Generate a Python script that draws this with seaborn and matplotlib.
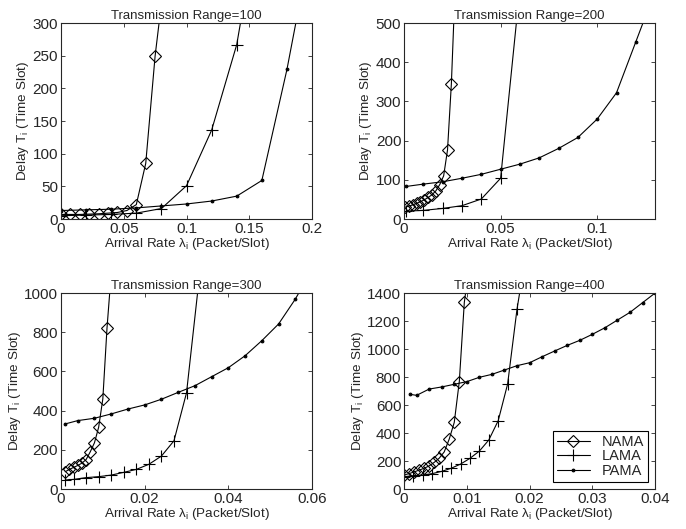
import numpy as np
import pandas as pd
import matplotlib
matplotlib.use("Agg")
import matplotlib.pyplot as plt
import seaborn as sns

# Transmission Range = 100
nama_x_100 = [0, 0.0075, 0.015, 0.0225, 0.03, 0.0375, 0.045, 0.0525, 0.06, 0.0675, 0.075, 0.0825]
nama_y_100 = [7, 7, 7, 7.5, 8, 9, 10, 13, 22, 85, 250, 370]
lama_x_100 = [0, 0.02, 0.04, 0.06, 0.08, 0.10, 0.12, 0.14, 0.16]
lama_y_100 = [5, 6, 7, 9, 16, 51, 136, 267, 490]
pama_x_100 = [0, 0.02, 0.04, 0.06, 0.08, 0.10, 0.12, 0.14, 0.16, 0.18, 0.20]
pama_y_100 = [13, 14, 15, 17, 20, 23, 27.5, 35, 59, 229, 430]

# Transmission Range = 200
nama_x_200 = [0.0005, 0.0025, 0.0045, 0.0065, 0.0085, 0.0105, 0.0125, 0.0145, 0.0165, 0.0185, 0.0205, 0.0225, 0.0245, 0.0265]
nama_y_200 = [30, 33, 36, 40, 44, 49, 55, 62, 72, 88, 110, 176, 345, 600]
lama_x_200 = [0.001, 0.01, 0.02, 0.03, 0.04, 0.05, 0.06]
lama_y_200 = [20, 22, 27, 34, 51, 104, 590]
pama_x_200 = [0.001, 0.01, 0.02, 0.03, 0.04, 0.05, 0.06, 0.07, 0.08, 0.09, 0.10, 0.11, 0.12, 0.13]
pama_y_200 = [83, 89, 95, 104, 114, 127, 140, 156, 180, 208, 255, 322, 452, 582]

# Transmission Range = 300
nama_x_300 = [0.001, 0.002, 0.003, 0.004, 0.005, 0.006, 0.007, 0.008, 0.009, 0.010, 0.011, 0.012]
nama_y_300 = [88, 100, 110, 120, 132, 150, 190, 236, 315, 460, 822, 1100]
lama_x_300 = [0.001, 0.003, 0.006, 0.009, 0.012, 0.015, 0.018, 0.021, 0.024, 0.027, 0.030, 0.033]
lama_y_300 = [46, 49, 58, 63, 71, 85, 100, 126, 168, 246, 491, 1070]
pama_x_300 = [0.001, 0.004, 0.008, 0.012, 0.016, 0.020, 0.024, 0.028, 0.032, 0.036, 0.040, 0.044, 0.048, 0.052, 0.056, 0.060]
pama_y_300 = [332, 349, 361, 383, 408, 429, 458, 493, 527, 573, 619, 680, 757, 842, 969, 1120]

# Transmission Range = 400
nama_x_400 = [0, 0.0008, 0.0016, 0.0024, 0.0032, 0.004, 0.0048, 0.0056, 0.0064, 0.0072, 0.008, 0.0088, 0.0096, 0.0104]
nama_y_400 = [100, 110, 122, 135, 148, 165, 190, 220, 265, 357, 476, 767, 1333, 1600]
lama_x_400 = [0, 0.0015, 0.003, 0.0045, 0.006, 0.0075, 0.009, 0.0105, 0.012, 0.0135, 0.015, 0.0165, 0.018, 0.0195]
lama_y_400 = [88, 95, 100, 110, 126, 148, 178, 219, 271, 350, 488, 750, 1286, 1700]
pama_x_400 = [0.001, 0.002, 0.004, 0.006, 0.008, 0.010, 0.012, 0.014, 0.016, 0.018, 0.020,
              0.022, 0.024, 0.026, 0.028, 0.030, 0.032, 0.034, 0.036, 0.038, 0.040]
pama_y_400 = [676, 669, 714, 729, 748, 767, 798, 819, 850, 881, 902,
              945, 986, 1026, 1062, 1105, 1152, 1207, 1262, 1331, 1400]

ranges = [100, 200, 300, 400]
xlims = [0.2, 0.13, 0.06, 0.04]
ylims = [300, 500, 1000, 1400]
xticks = [[0, 0.05, 0.1, 0.15, 0.2], [0, 0.05, 0.1], [0, 0.02, 0.04, 0.06], [0, 0.01, 0.02, 0.03, 0.04]]
xticklabels = [["0", "0.05", "0.1", "0.15", "0.2"], ["0", "0.05", "0.1"],
               ["0", "0.02", "0.04", "0.06"], ["0", "0.01", "0.02", "0.03", "0.04"]]
ysteps = [50, 100, 200, 200]

series = {
    100: [(nama_x_100, nama_y_100), (lama_x_100, lama_y_100), (pama_x_100, pama_y_100)],
    200: [(nama_x_200, nama_y_200), (lama_x_200, lama_y_200), (pama_x_200, pama_y_200)],
    300: [(nama_x_300, nama_y_300), (lama_x_300, lama_y_300), (pama_x_300, pama_y_300)],
    400: [(nama_x_400, nama_y_400), (lama_x_400, lama_y_400), (pama_x_400, pama_y_400)],
}
names = ["NAMA", "LAMA", "PAMA"]
styles = [dict(marker="D", markersize=6.5, markerfacecolor="none", markeredgecolor="k", markeredgewidth=0.8),
          dict(marker="+", markersize=8, markeredgecolor="k", markeredgewidth=0.8),
          dict(marker=".", markersize=4, markeredgecolor="k", markerfacecolor="k")]

sns.set_style("ticks")
plt.rcParams['font.family'] = ['Liberation Sans', 'DejaVu Sans']
plt.rcParams['xtick.direction'] = 'in'
plt.rcParams['ytick.direction'] = 'in'
plt.rcParams['mathtext.default'] = 'regular'

fig = plt.figure(figsize=(6.86, 5.29), dpi=100)
positions = [[0.0889, 0.586, 0.366, 0.3705], [0.589, 0.586, 0.366, 0.3705],
             [0.0889, 0.0756, 0.366, 0.3705], [0.589, 0.0756, 0.366, 0.3705]]

for i, r in enumerate(ranges):
    ax = fig.add_axes(positions[i])
    for j, (xs, ys) in enumerate(series[r]):
        df = pd.DataFrame({"x": xs, "y": ys})
        sns.lineplot(data=df, x="x", y="y", ax=ax, color="k", linewidth=0.8,
                     sort=False, estimator=None, label=names[j], **styles[j])
    ax.set_xlim(0, xlims[i])
    ax.set_ylim(0, ylims[i])
    ax.set_xticks(xticks[i])
    ax.set_xticklabels(xticklabels[i])
    ax.set_yticks(np.arange(0, ylims[i] + 1, ysteps[i]))
    ax.tick_params(labelsize=11, length=3, width=0.6, top=True, right=True, pad=2)
    for s in ax.spines.values():
        s.set_linewidth(0.8)
    ax.set_title("Transmission Range=%d" % r, fontsize=9.5, pad=3)
    ax.set_xlabel(r"Arrival Rate $\lambda_i$ (Packet/Slot)", fontsize=9.7, labelpad=0)
    ax.set_ylabel(r"Delay $T_i$ (Time Slot)", fontsize=9.7, labelpad=1)
    if r == 400:
        leg = ax.legend(loc="lower right", fontsize=10.5, frameon=True, fancybox=False,
                        edgecolor="k", framealpha=1, handlelength=2.3,
                        borderaxespad=0.5, labelspacing=0.05, borderpad=0.25)
        leg.get_frame().set_linewidth(0.8)
    else:
        ax.get_legend().remove()

fig.savefig("out.png", dpi=100)
